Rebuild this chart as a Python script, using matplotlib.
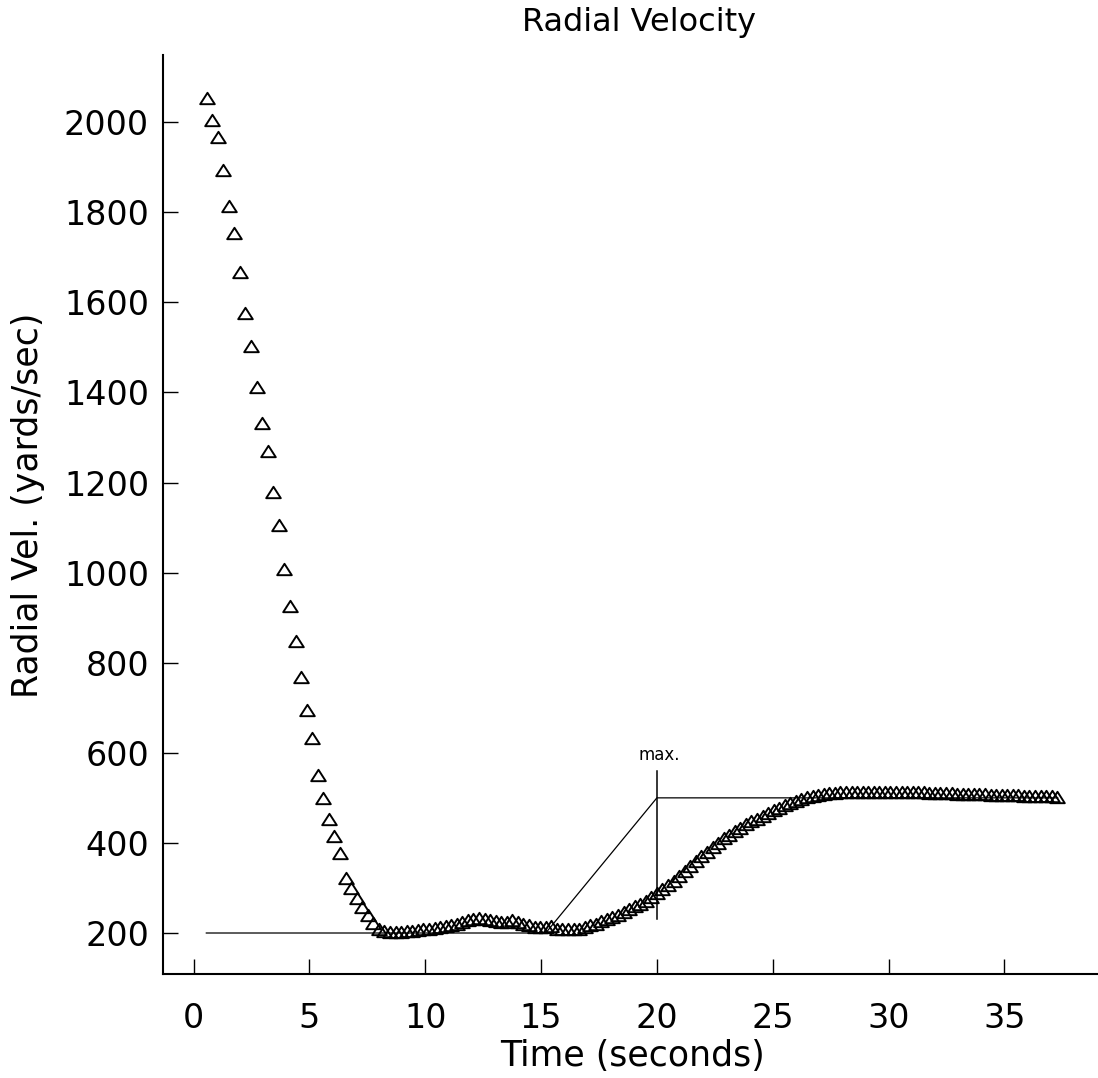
import matplotlib.pyplot as plt
from matplotlib.path import Path

time_s = [
  0.56, 0.80, 1.04, 1.28, 1.52, 1.76, 2.00, 2.24, 2.48, 2.72,
  2.96, 3.20, 3.44, 3.68, 3.92, 4.16, 4.40, 4.64, 4.88, 5.12,
  5.36, 5.60, 5.84, 6.08, 6.32, 6.56, 6.80, 7.04, 7.28, 7.52,
  7.76, 8.00, 8.24, 8.48, 8.72, 8.96, 9.20, 9.44, 9.68, 9.92,
  10.16, 10.40, 10.64, 10.88, 11.12, 11.36, 11.60, 11.84, 12.08, 12.32,
  12.56, 12.80, 13.04, 13.28, 13.52, 13.76, 14.00, 14.24, 14.48, 14.72,
  14.96, 15.20, 15.44, 15.68, 15.92, 16.16, 16.40, 16.64, 16.88, 17.12,
  17.36, 17.60, 17.84, 18.08, 18.32, 18.56, 18.80, 19.04, 19.28, 19.52,
  19.76, 20.00, 20.24, 20.48, 20.72, 20.96, 21.20, 21.44, 21.68, 21.92,
  22.16, 22.40, 22.64, 22.88, 23.12, 23.36, 23.60, 23.84, 24.08, 24.32,
  24.56, 24.80, 25.04, 25.28, 25.52, 25.76, 26.00, 26.24, 26.48, 26.72,
  26.96, 27.20, 27.44, 27.68, 27.92, 28.16, 28.40, 28.64, 28.88, 29.12,
  29.36, 29.60, 29.84, 30.08, 30.32, 30.56, 30.80, 31.04, 31.28, 31.52,
  31.76, 32.00, 32.24, 32.48, 32.72, 32.96, 33.20, 33.44, 33.68, 33.92,
  34.16, 34.40, 34.64, 34.88, 35.12, 35.36, 35.60, 35.84, 36.08, 36.32,
  36.56, 36.80, 37.04, 37.28,
]
radial_vel = [
  2053, 2005, 1966, 1893, 1813, 1753, 1668, 1576, 1504, 1412,
  1332, 1271, 1180, 1106, 1008, 926, 849, 768, 694, 632,
  551, 499, 452, 415, 377, 323, 299, 278, 258, 240,
  223, 210, 205, 203, 202, 203, 204, 205, 206, 208,
  210, 212, 214, 216, 218, 221, 225, 229, 232, 233,
  232, 229, 226, 224, 225, 228, 224, 220, 217, 214,
  213, 214, 216, 210, 208, 208, 209, 210, 213, 217,
  221, 226, 231, 236, 241, 247, 253, 259, 265, 272,
  280, 288, 297, 306, 316, 327, 338, 349, 359, 370,
  380, 390, 400, 410, 418, 426, 434, 441, 448, 454,
  460, 466, 472, 478, 484, 489, 494, 498, 502, 505,
  507, 509, 510, 511, 512, 513, 513, 514, 514, 514,
  514, 514, 514, 513, 513, 513, 513, 512, 512, 512,
  511, 511, 510, 510, 510, 509, 509, 509, 508, 508,
  508, 507, 507, 507, 506, 506, 506, 505, 505, 505,
  504, 504, 504, 503,
]

# reference profile
ref_t = [0.55, 15.2, 20.0, 37.3]
ref_v = [200, 200, 500, 500]

# the "max." marker
max_t = 20.0
max_lo, max_hi = 230, 560

plt.rcParams['font.family'] = 'DejaVu Sans'

fig = plt.figure(figsize=(10.98, 10.78), dpi=100)
ax = fig.add_axes([163 / 1098, 104 / 1078, 935 / 1098, 919 / 1078])

ax.plot(ref_t, ref_v, color='black', lw=0.9)
ax.plot([max_t, max_t], [max_lo, max_hi], color='black', lw=1.1)
ax.text(max_t + 0.1, max_hi + 16, 'max.', fontsize=12, ha='center', va='bottom')

tri = Path([(-1, -0.78), (1, -0.78), (0, 0.78), (-1, -0.78)],
           [Path.MOVETO, Path.LINETO, Path.LINETO, Path.CLOSEPOLY])
ax.plot(time_s, radial_vel, ls='none', marker=tri, markersize=10.5,
        markerfacecolor='none', markeredgecolor='black', markeredgewidth=1.4)

ax.set_xlim(-1.32, 39.04)
ax.set_ylim(109, 2149)
ax.set_xticks(range(0, 36, 5))
ax.set_yticks(range(200, 2001, 200))

for side in ['top', 'right']:
  ax.spines[side].set_visible(False)
for side in ['left', 'bottom']:
  ax.spines[side].set_linewidth(1.5)

ax.tick_params(direction='in', length=11, width=1, labelsize=24)
ax.tick_params(axis='x', pad=20)
ax.tick_params(axis='y', pad=10)

fig.text(639 / 1098, 1 - 22 / 1078, 'Radial Velocity', fontsize=23,
         ha='center', va='center')
fig.text(632 / 1098, 1 - 1056 / 1078, 'Time (seconds)', fontsize=25,
         ha='center', va='center')
fig.text(28 / 1098, 1 - 505 / 1078, 'Radial Vel. (yards/sec)', fontsize=25,
         ha='center', va='center', rotation=90)

fig.savefig('out.png', dpi=100)
